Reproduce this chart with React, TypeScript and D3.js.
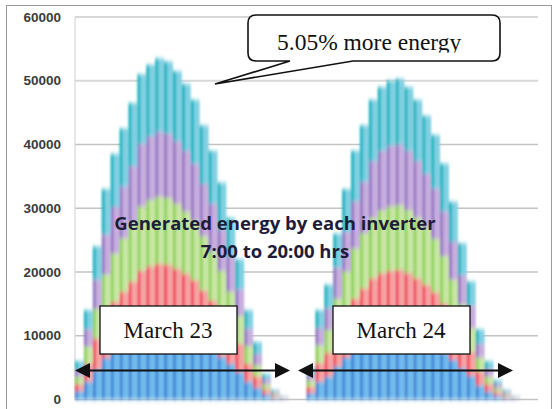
import * as d3 from 'd3'

const WIDTH = 554
const HEIGHT = 409
const PLOT_LEFT = 75
const PLOT_RIGHT = 538
const PLOT_TOP = 17
const PLOT_BOTTOM = 399.5

// half-hour slots, 7:00 to 20:00, for each day
const DAYS = ['March 23', 'March 24']
const SLOT_TIMES = [
  '07:00', '07:30', '08:00', '08:30', '09:00', '09:30', '10:00', '10:30', '11:00',
  '11:30', '12:00', '12:30', '13:00', '13:30', '14:00', '14:30', '15:00', '15:30',
  '16:00', '16:30', '17:00', '17:30', '18:00', '18:30', '19:00', '19:30',
]
const Y_TICKS = [0, 10000, 20000, 30000, 40000, 50000, 60000]

const INVERTERS = ['inv1', 'inv2', 'inv3', 'inv4', 'inv5']

const inv1 = [
  1300, 2800, 4700, 6500, 7600, 8400, 9200, 10000, 10300, 10500, 10400, 10100, 9700,
  9300, 8500, 7700, 6700, 5600, 4300, 2800, 1800, 800, 300, 100, 0, 0,
  1000, 2800, 3600, 5200, 6600, 7800, 8600, 9400, 9800, 10000, 10000, 9800, 9400,
  8900, 8300, 7400, 6200, 4900, 3700, 2200, 1200, 600, 300, 100, 0, 0,
]
const inv2 = [
  1100, 2800, 4800, 6600, 7700, 8500, 9300, 10200, 10600, 10800, 10700, 10400, 10000,
  9400, 8600, 7800, 6800, 5700, 4400, 2800, 1800, 800, 300, 100, 0, 0,
  1000, 2900, 3700, 5300, 6800, 8000, 8800, 9600, 10000, 10200, 10300, 10000, 9600,
  9100, 8500, 7600, 6300, 5000, 3800, 2200, 1200, 600, 300, 100, 0, 0,
]
const inv3 = [
  1200, 2700, 4700, 6500, 7600, 8400, 9200, 10100, 10400, 10500, 10500, 10200, 9800,
  9300, 8500, 7700, 6700, 5600, 4400, 2800, 1800, 800, 300, 100, 0, 0,
  1000, 2800, 3600, 5300, 6700, 7900, 8700, 9500, 9900, 10100, 10200, 9900, 9500,
  9000, 8400, 7500, 6300, 5000, 3700, 2200, 1200, 600, 300, 100, 0, 0,
]
const inv4 = [
  1100, 2700, 4600, 6300, 7300, 8100, 8900, 9800, 10000, 10200, 10100, 9800, 9500,
  9000, 8200, 7500, 6500, 5500, 4200, 2700, 1700, 800, 300, 100, 0, 0,
  900, 2700, 3400, 4900, 6200, 7400, 8100, 8900, 9300, 9500, 9500, 9300, 8900,
  8400, 7900, 7000, 5900, 4600, 3500, 2100, 1200, 600, 300, 100, 0, 0,
]
const inv5 = [
  1300, 3000, 5200, 7100, 8300, 9100, 9900, 10900, 11200, 11500, 11300, 11000, 10500,
  10000, 9200, 8300, 7300, 6100, 4700, 2900, 1900, 800, 300, 100, 0, 0,
  1100, 2800, 3700, 5300, 6700, 7900, 8800, 9600, 10000, 10200, 10300, 10000, 9600,
  9100, 8400, 7500, 6300, 5000, 3800, 2300, 1200, 600, 300, 100, 0, 0,
]

// [stripe, body]
const COLORS: Record<string, [string, string]> = {
  inv1: ['#3f84d6', '#6fbbec'],
  inv2: ['#f04a5c', '#f5a3a3'],
  inv3: ['#8fd25a', '#c8e6a4'],
  inv4: ['#9478c2', '#c8aede'],
  inv5: ['#1fb3bf', '#80d0e2'],
}

type Row = { key: string; [k: string]: number | string }

const categories = DAYS.flatMap((d) => SLOT_TIMES.map((t) => `${d} ${t}`))
const seriesValues = [inv1, inv2, inv3, inv4, inv5]
const rows: Row[] = categories.map((key, i) => {
  const r: Row = { key }
  INVERTERS.forEach((name, s) => {
    r[name] = seriesValues[s][i]
  })
  return r
})

export default function App() {
  const x = d3
    .scaleBand<string>()
    .domain(categories)
    .range([PLOT_LEFT, PLOT_RIGHT])
    .padding(0)
  const y = d3.scaleLinear().domain([0, 60000]).range([PLOT_BOTTOM, PLOT_TOP])

  const stacked = d3.stack<Row>().keys(INVERTERS).value((d, k) => d[k] as number)(rows)

  const yTickFmt = d3.format('d')

  const arrowY = 370.5
  const arrows = [
    [75, 290],
    [298, 513],
  ]

  return (
    <svg
      width={WIDTH}
      height={HEIGHT}
      style={{ position: 'absolute', left: 0, top: 0, background: '#fff' }}
    >
      <defs>
        {INVERTERS.map((k) => (
          <linearGradient key={k} id={`g-${k}`} x1="0" x2="1" y1="0" y2="0">
            <stop offset="0" stopColor={COLORS[k][0]} />
            <stop offset="0.22" stopColor={COLORS[k][0]} />
            <stop offset="0.45" stopColor={COLORS[k][1]} />
            <stop offset="1" stopColor={COLORS[k][1]} />
          </linearGradient>
        ))}
        <filter id="soft" x="-5%" y="-5%" width="110%" height="110%">
          <feGaussianBlur stdDeviation="1.1 2.2" />
        </filter>
        <clipPath id="callout-clip">
          <rect x={250} y={17} width={248} height={35.5} />
        </clipPath>
      </defs>

      <rect x={6.5} y={5.5} width={545} height={420} fill="#fff" stroke="#9a9a9a" />

      {Y_TICKS.map((t) => (
        <g key={t}>
          <line
            x1={PLOT_LEFT}
            x2={PLOT_RIGHT}
            y1={y(t)}
            y2={y(t)}
            stroke={t >= 50000 ? '#d8d8d8' : '#c4c4c4'}
            strokeWidth={t >= 50000 ? 2 : 1.3}
          />
          <text
            x={61}
            y={y(t)}
            dy="0.35em"
            textAnchor="end"
            fontFamily="Liberation Sans, Arial, sans-serif"
            fontWeight="bold"
            fontSize={13.5}
            fill="#3c3c3c"
          >
            {yTickFmt(t)}
          </text>
        </g>
      ))}
      <line x1={PLOT_LEFT} x2={PLOT_LEFT} y1={PLOT_TOP} y2={PLOT_BOTTOM} stroke="#d0d0d0" />

      <g filter="url(#soft)">
        {stacked.map((layer) => (
          <g key={layer.key} fill={`url(#g-${layer.key})`}>
            {layer.map((d) =>
              d[1] > d[0] ? (
                <rect
                  key={d.data.key}
                  x={x(d.data.key)}
                  y={y(d[1])}
                  width={x.bandwidth()}
                  height={y(d[0]) - y(d[1])}
                />
              ) : null
            )}
          </g>
        ))}
      </g>

      <path
        d="M256 15 H492 Q500 15 500 23 V53 Q500 61 492 61 H353 L215 84 L290 61 H256 Q248 61 248 53 V23 Q248 15 256 15 Z"
        fill="#fff"
        stroke="#111"
        strokeWidth={1.6}
      />
      <text
        x={277}
        y={50}
        clipPath="url(#callout-clip)"
        fontFamily="Liberation Serif, Times New Roman, serif"
        fontSize={23.5}
        fill="#111"
      >
        5.05% more energy
      </text>

      <g
        fontFamily="Open Sans, Noto Sans, sans-serif"
        fontWeight="bold"
        fontSize={18.5}
        fill="#1d1d3a"
        textAnchor="middle"
      >
        <text x={275} y={230}>
          Generated energy by each inverter
        </text>
        <text x={275} y={258}>
          7:00 to 20:00 hrs
        </text>
      </g>

      {DAYS.map((day, i) => {
        const bx = i === 0 ? 100 : 333
        return (
          <g key={day}>
            <rect x={bx} y={306} width={137} height={48} fill="#fff" stroke="#111" strokeWidth={1.3} />
            <text
              x={bx + 68}
              y={338}
              textAnchor="middle"
              fontFamily="Liberation Serif, Times New Roman, serif"
              fontSize={23}
              fill="#111"
            >
              {day}
            </text>
          </g>
        )
      })}

      {arrows.map(([a, b]) => (
        <g key={a} fill="#111">
          <line x1={a + 12} x2={b - 12} y1={arrowY} y2={arrowY} stroke="#111" strokeWidth={2.2} />
          <path d={`M${a} ${arrowY} L${a + 15} ${arrowY - 7.5} L${a + 15} ${arrowY + 7.5} Z`} />
          <path d={`M${b} ${arrowY} L${b - 15} ${arrowY - 7.5} L${b - 15} ${arrowY + 7.5} Z`} />
        </g>
      ))}
    </svg>
  )
}
